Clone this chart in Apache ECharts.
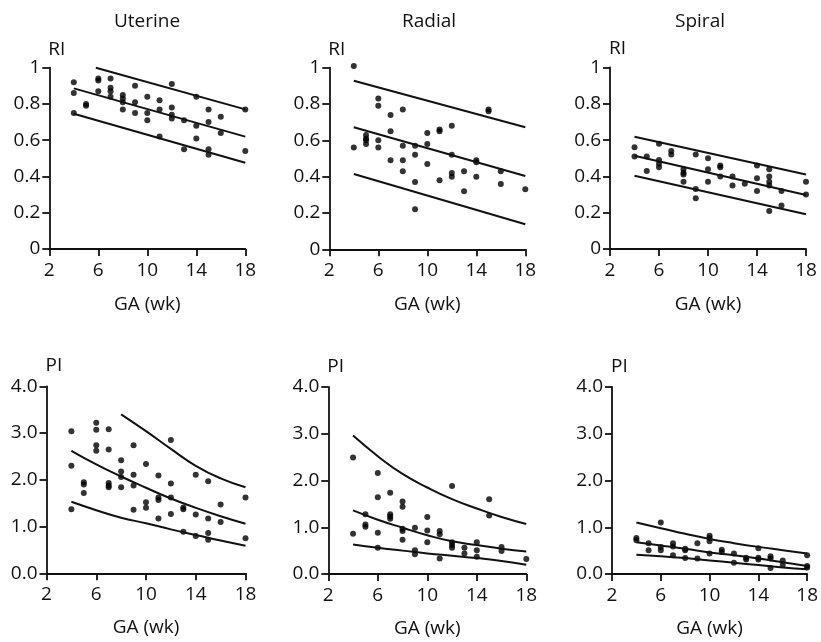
<!DOCTYPE html>
<html>
<head>
<meta charset="utf-8">
<script src="https://cdn.jsdelivr.net/npm/echarts@6/dist/echarts.min.js"></script>
<style>
  html, body { margin: 0; padding: 0; background: #fff; }
  #chart { width: 821px; height: 642px; }
</style>
</head>
<body>
<div id="chart"></div>
<script>
// Gestational-age tick labels (weeks)
const weekTicks = [2, 6, 10, 14, 18];

// ---- Resistance index (RI) measurements: [GA week, RI] ----
const uterineRI = [
  [4,0.92],[4,0.86],[4,0.75],[5,0.80],[5,0.79],[6,0.94],[6,0.93],[6,0.87],
  [7,0.94],[7,0.89],[7,0.87],[7,0.84],[8,0.85],[8,0.83],[8,0.81],[8,0.77],
  [9,0.90],[9,0.81],[9,0.75],[10,0.84],[10,0.75],[10,0.71],[11,0.82],[11,0.77],
  [11,0.62],[12,0.91],[12,0.78],[12,0.74],[12,0.72],[13,0.71],[13,0.55],
  [14,0.84],[14,0.68],[14,0.61],[15,0.77],[15,0.70],[15,0.55],[15,0.52],
  [16,0.73],[16,0.64],[18,0.77],[18,0.54]
];
const uterineRIUpper = [[5.8,1.0],[18,0.77]];
const uterineRIMean  = [[4,0.886],[18,0.62]];
const uterineRILower = [[4,0.746],[18,0.476]];

const radialRI = [
  [4,1.01],[4,0.56],[5,0.63],[5,0.61],[5,0.60],[5,0.58],[6,0.83],[6,0.79],
  [6,0.60],[6,0.56],[7,0.74],[7,0.65],[7,0.49],[8,0.77],[8,0.57],[8,0.49],
  [8,0.43],[9,0.57],[9,0.52],[9,0.37],[9,0.22],[10,0.64],[10,0.58],[10,0.47],
  [11,0.66],[11,0.65],[11,0.38],[12,0.68],[12,0.52],[12,0.42],[12,0.40],
  [13,0.43],[13,0.32],[14,0.49],[14,0.48],[14,0.40],[15,0.77],[15,0.76],
  [16,0.43],[16,0.36],[18,0.33]
];
const radialRIUpper = [[4,0.928],[18,0.672]];
const radialRIMean  = [[4,0.672],[18,0.404]];
const radialRILower = [[4,0.415],[18,0.138]];

const spiralRI = [
  [4,0.56],[4,0.51],[5,0.51],[5,0.43],[6,0.58],[6,0.49],[6,0.47],[6,0.45],
  [7,0.54],[7,0.52],[8,0.44],[8,0.42],[8,0.41],[8,0.37],[9,0.52],[9,0.33],
  [9,0.28],[10,0.50],[10,0.44],[10,0.37],[11,0.46],[11,0.45],[11,0.40],
  [12,0.40],[12,0.35],[13,0.36],[14,0.46],[14,0.39],[14,0.32],[15,0.44],
  [15,0.40],[15,0.37],[15,0.35],[15,0.21],[16,0.32],[16,0.24],[18,0.37],[18,0.30]
];
const spiralRIUpper = [[4,0.618],[18,0.411]];
const spiralRIMean  = [[4,0.514],[18,0.297]];
const spiralRILower = [[4,0.404],[18,0.191]];

// ---- Pulsatility index (PI) measurements: [GA week, PI] ----
const uterinePI = [
  [4,3.04],[4,2.30],[4,1.37],[5,1.95],[5,1.90],[5,1.72],[6,3.22],[6,3.07],
  [6,2.74],[6,2.62],[7,3.08],[7,2.65],[7,1.93],[7,1.88],[7,1.84],[8,2.42],
  [8,2.18],[8,2.06],[8,1.84],[9,2.74],[9,2.11],[9,1.88],[9,1.36],[10,2.34],
  [10,1.52],[10,1.40],[11,2.09],[11,1.62],[11,1.57],[11,1.17],[12,2.85],
  [12,1.92],[12,1.62],[12,1.27],[13,1.41],[13,1.37],[13,0.89],[14,2.11],
  [14,1.26],[14,0.80],[15,1.97],[15,1.17],[15,0.86],[15,0.72],[16,1.47],
  [16,1.10],[18,1.62],[18,0.75]
];
const uterinePIUpper = [[8,3.40],[10,3.04],[12,2.66],[14,2.30],[16,2.03],[18,1.84]];
const uterinePIMean  = [[4,2.62],[6,2.33],[8,2.07],[10,1.83],[12,1.60],[14,1.40],[16,1.22],[18,1.06]];
const uterinePILower = [[4,1.53],[6,1.35],[8,1.19],[10,1.07],[12,0.94],[14,0.82],[16,0.70],[18,0.59]];

const radialPI = [
  [4,2.49],[4,0.86],[5,1.28],[5,1.06],[5,1.01],[6,2.16],[6,1.64],[6,0.88],
  [6,0.56],[7,1.74],[7,1.28],[7,1.23],[7,1.18],[8,1.55],[8,1.44],[8,0.97],
  [8,0.92],[8,0.73],[9,0.99],[9,0.51],[9,0.42],[10,1.22],[10,0.93],[10,0.68],
  [11,0.92],[11,0.85],[11,0.33],[12,1.88],[12,0.68],[12,0.62],[12,0.56],
  [13,0.56],[13,0.44],[14,0.68],[14,0.51],[14,0.37],[15,1.60],[15,1.25],
  [16,0.58],[16,0.49],[18,0.32]
];
const radialPIUpper = [[4,2.96],[6,2.52],[8,2.14],[10,1.85],[12,1.60],[14,1.40],[16,1.22],[18,1.07]];
const radialPIMean  = [[4,1.36],[6,1.16],[8,0.99],[10,0.83],[12,0.70],[14,0.62],[16,0.54],[18,0.48]];
const radialPILower = [[4,0.63],[6,0.56],[8,0.50],[10,0.44],[12,0.39],[14,0.34],[16,0.28],[18,0.20]];

const spiralPI = [
  [4,0.77],[4,0.72],[5,0.66],[5,0.51],[6,1.10],[6,0.58],[6,0.51],[7,0.66],
  [7,0.59],[7,0.40],[8,0.54],[8,0.51],[8,0.34],[9,0.66],[9,0.33],[10,0.82],
  [10,0.77],[10,0.70],[10,0.44],[11,0.52],[11,0.47],[12,0.44],[12,0.24],
  [13,0.35],[13,0.31],[14,0.55],[14,0.35],[14,0.31],[15,0.38],[15,0.33],
  [15,0.13],[16,0.29],[16,0.19],[18,0.40],[18,0.17],[18,0.14]
];
const spiralPIUpper = [[4,1.10],[6,0.98],[8,0.86],[10,0.75],[12,0.66],[14,0.58],[16,0.51],[18,0.44]];
const spiralPIMean  = [[4,0.68],[6,0.61],[8,0.54],[10,0.46],[12,0.40],[14,0.33],[16,0.25],[18,0.17]];
const spiralPILower = [[4,0.41],[6,0.38],[8,0.34],[10,0.29],[12,0.24],[14,0.19],[16,0.14],[18,0.10]];

const vesselNames = ['Uterine', 'Radial', 'Spiral'];

// ---- Panel layout ----
const INK = '#111111';
const FONT = 'Open Sans';
const FS = 19;

const panels = [
  { pts: uterineRI, bands: [uterineRIUpper, uterineRIMean, uterineRILower], idx: 'RI',
    grid: { left: 49.3, top: 67.7, width: 196, height: 181.3 } },
  { pts: radialRI, bands: [radialRIUpper, radialRIMean, radialRILower], idx: 'RI',
    grid: { left: 329.3, top: 67.7, width: 196, height: 181.6 } },
  { pts: spiralRI, bands: [spiralRIUpper, spiralRIMean, spiralRILower], idx: 'RI',
    grid: { left: 610, top: 67.5, width: 196, height: 181.5 } },
  { pts: uterinePI, bands: [uterinePIUpper, uterinePIMean, uterinePILower], idx: 'PI',
    grid: { left: 46.5, top: 386.3, width: 199, height: 187 } },
  { pts: radialPI, bands: [radialPIUpper, radialPIMean, radialPILower], idx: 'PI',
    grid: { left: 328.3, top: 387, width: 198, height: 187 } },
  { pts: spiralPI, bands: [spiralPIUpper, spiralPIMean, spiralPILower], idx: 'PI',
    grid: { left: 612, top: 387, width: 202, height: 187 } }
];

const titleCenters = [147, 429, 700];

const text = { color: INK, fontFamily: FONT, fontSize: FS };

const grids = [], xAxes = [], yAxes = [], series = [];

panels.forEach((p, i) => {
  grids.push(Object.assign({ containLabel: false }, p.grid));
  const isRI = p.idx === 'RI';
  xAxes.push({
    type: 'value', gridIndex: i, min: weekTicks[0], max: weekTicks[weekTicks.length - 1],
    interval: weekTicks[1] - weekTicks[0],
    axisLine: { show: true, onZero: false, lineStyle: { color: INK, width: 1.8 } },
    axisTick: { show: true, length: 7, lineStyle: { color: INK, width: 1.8 } },
    axisLabel: Object.assign({ margin: 12 }, text),
    splitLine: { show: false },
    name: 'GA (wk)', nameLocation: 'middle', nameGap: isRI ? 46 : 45,
    nameTextStyle: Object.assign({}, text)
  });
  yAxes.push({
    type: 'value', gridIndex: i, min: 0, max: isRI ? 1 : 4, interval: isRI ? 0.2 : 1,
    axisLine: { show: true, onZero: false, lineStyle: { color: INK, width: 1.8 } },
    axisTick: { show: true, length: 7, lineStyle: { color: INK, width: 1.8 } },
    axisLabel: Object.assign({ margin: 9,
      formatter: v => isRI ? String(+v.toFixed(1)) : v.toFixed(1) }, text),
    splitLine: { show: false },
    name: p.idx, nameLocation: 'end', nameGap: isRI ? 9 : 11,
    nameTextStyle: Object.assign({ align: 'left', padding: [0, 0, 0, -1] }, text)
  });
  series.push({
    type: 'scatter', xAxisIndex: i, yAxisIndex: i, data: p.pts,
    symbol: 'circle', symbolSize: 6, clip: false, silent: true,
    itemStyle: { color: '#000' }
  });
  p.bands.forEach(b => {
    series.push({
      type: 'line', xAxisIndex: i, yAxisIndex: i, data: b,
      showSymbol: false, silent: true, smooth: isRI ? false : 0.5, clip: false,
      lineStyle: { color: INK, width: 2 }
    });
  });
});

const titles = vesselNames.map((n, i) => ({
  text: n, left: titleCenters[i], top: 12, textAlign: 'center', padding: 0,
  textStyle: { color: INK, fontFamily: FONT, fontSize: FS, fontWeight: 'normal' }
}));

const chart = echarts.init(document.getElementById('chart'), null, { renderer: 'canvas' });
chart.setOption({
  animation: false,
  backgroundColor: '#fff',
  title: titles,
  grid: grids,
  xAxis: xAxes,
  yAxis: yAxes,
  series: series
});
</script>
</body>
</html>
